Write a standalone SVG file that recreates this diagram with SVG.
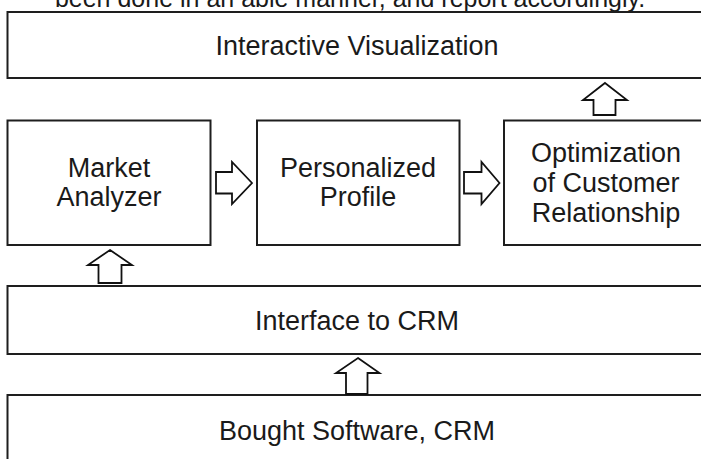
<svg xmlns="http://www.w3.org/2000/svg" width="701" height="459" viewBox="0 0 701 459">
<style>
.box{fill:#fff;stroke:#1e1e1e;stroke-width:2}
.lbl{font-family:"Liberation Sans",Arial,sans-serif;font-size:27px;fill:#1a1a1a;text-anchor:middle}
.arr{fill:#fff;stroke:#111;stroke-width:1.8;stroke-linejoin:miter}
.cut{font-family:"Liberation Sans",Arial,sans-serif;font-size:25px;fill:#1a1a1a;text-anchor:middle}
</style>
<rect width="701" height="459" fill="#fff"/>
<text class="cut" x="350" y="7">been done in an able manner, and report accordingly.</text>
<g id="interactive-visualization">
<rect class="box" x="7.5" y="12" width="710" height="66"/>
<text class="lbl" x="357" y="55">Interactive Visualization</text>
</g>
<g id="market-analyzer">
<rect class="box" x="7.5" y="120.5" width="203" height="124.5"/>
<text class="lbl" x="109" y="177">Market</text>
<text class="lbl" x="109" y="206">Analyzer</text>
</g>
<g id="personalized-profile">
<rect class="box" x="257" y="120.5" width="202.5" height="124.5"/>
<text class="lbl" x="358" y="177">Personalized</text>
<text class="lbl" x="358" y="206">Profile</text>
</g>
<g id="optimization">
<rect class="box" x="504" y="120.5" width="210" height="124.5"/>
<text class="lbl" x="606" y="162">Optimization</text>
<text class="lbl" x="606" y="192">of Customer</text>
<text class="lbl" x="606" y="222">Relationship</text>
</g>
<g id="interface-to-crm">
<rect class="box" x="7.5" y="286" width="710" height="68"/>
<text class="lbl" x="357" y="330">Interface to CRM</text>
</g>
<g id="bought-software">
<rect class="box" x="7.5" y="395" width="710" height="80"/>
<text class="lbl" x="357" y="440">Bought Software, CRM</text>
</g>
<g id="connectors">
<polygon class="arr" points="605,83 627,100 615.5,100 615.5,115 593.5,115 593.5,100 583,100"/>
<polygon class="arr" points="252,183 232,162 232,172 216,172 216,193.5 232,193.5 232,204"/>
<polygon class="arr" points="499.5,183 481.5,162 481.5,172 464,172 464,193.5 481.5,193.5 481.5,204"/>
<polygon class="arr" points="110,250 132,265 121.5,265 121.5,283 98.5,283 98.5,265 88,265"/>
<polygon class="arr" points="358,358 379.5,373 367.5,373 367.5,394 346,394 346,373 336,373"/>
</g>
</svg>
